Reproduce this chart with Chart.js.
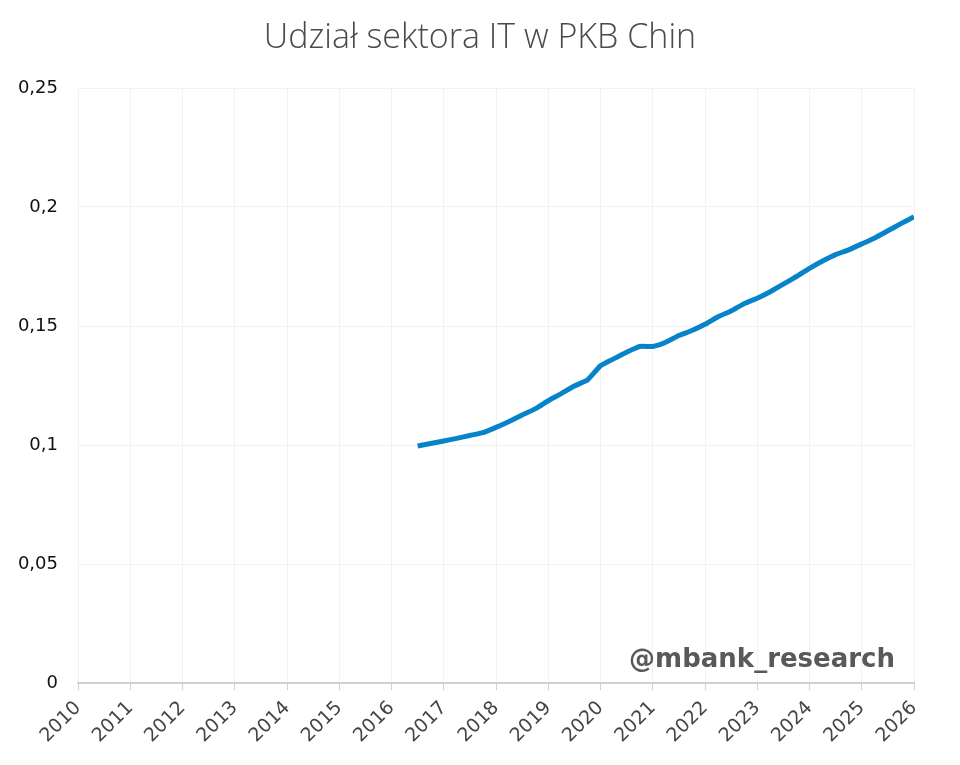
<!DOCTYPE html>
<html>
<head>
<meta charset="utf-8">
<script src="https://cdn.jsdelivr.net/npm/chart.js@4/dist/chart.umd.min.js"></script>
<style>
  html, body { margin: 0; padding: 0; background: #fff; }
  #wrap { width: 960px; height: 765px; position: relative; }
</style>
</head>
<body>
<div id="wrap"><canvas id="myChart"></canvas></div>
<script>
// quarterly data, share of IT sector in China's GDP
var quarters = [
  "2016Q3","2016Q4","2017Q1","2017Q2","2017Q3","2017Q4",
  "2018Q1","2018Q2","2018Q3","2018Q4","2019Q1","2019Q2","2019Q3","2019Q4",
  "2020Q1","2020Q2","2020Q3","2020Q4","2021Q1","2021Q2","2021Q3","2021Q4",
  "2022Q1","2022Q2","2022Q3","2022Q4","2023Q1","2023Q2","2023Q3","2023Q4",
  "2024Q1","2024Q2","2024Q3","2024Q4","2025Q1","2025Q2","2025Q3","2025Q4",
  "2026Q1"
]
var itShare = [
  0.0996, 0.1006, 0.1017, 0.1028, 0.1040, 0.1052,
  0.1074, 0.1099, 0.1126, 0.1152, 0.1186, 0.1216, 0.1248, 0.1273,
  0.1333, 0.1362, 0.1390, 0.1414, 0.1414, 0.1432, 0.1460, 0.1481,
  0.1507, 0.1539, 0.1563, 0.1594, 0.1617, 0.1644, 0.1676, 0.1708,
  0.1742, 0.1773, 0.1800, 0.1820, 0.1845, 0.1870, 0.1900, 0.1930,
  0.1959
]
var yTicks = [0, 0.05, 0.1, 0.15, 0.2, 0.25]
var yTickLabels = ["0", "0,05", "0,1", "0,15", "0,2", "0,25"]
var firstYear = 2010
var lastYear = 2026
var chartTitle = "Udział sektora IT w PKB Chin"

var points = []
quarters.forEach(function(q, i){
  var yr = parseInt(q.slice(0, 4))
  var qn = parseInt(q.slice(5))
  points.push({x: yr + (qn - 1) / 4, y: itShare[i]})
})

// title centred on the whole canvas + watermark in the corner
var texts = {
  id: "texts",
  afterDraw: function(chart){
    var ctx = chart.ctx
    var a = chart.chartArea
    ctx.save()
    ctx.font = "300 34px 'Open Sans'"
    ctx.fillStyle = "#4a4a4a"
    ctx.textAlign = "center"
    ctx.textBaseline = "middle"
    ctx.fillText(chartTitle, chart.width / 2, 38)
    ctx.font = "bold 26px 'DejaVu Sans'"
    ctx.fillStyle = "#595959"
    ctx.textAlign = "right"
    ctx.textBaseline = "alphabetic"
    ctx.fillText("@mbank_research", a.right - 19, a.bottom - 16)
    ctx.restore()
  }
}

var ctx = document.getElementById("myChart")
var myChart = new Chart(ctx, {
  type: "line",
  data: {
    datasets: [{
      label: chartTitle,
      data: points,
      borderColor: "#0784c9",
      borderWidth: 5,
      pointRadius: 0,
      tension: 0.15,
      fill: false
    }]
  },
  options: {
    responsive: true,
    maintainAspectRatio: false,
    animation: false,
    layout: { padding: { top: 88, right: 46, left: 0, bottom: 0 } },
    plugins: {
      legend: { display: false },
      tooltip: { enabled: false }
    },
    scales: {
      x: {
        type: "linear",
        min: firstYear,
        max: lastYear,
        afterFit: function(s){ s.height = 82 },
        ticks: {
          stepSize: 1,
          autoSkip: false,
          maxRotation: 45,
          minRotation: 45,
          padding: 7,
          color: "#444",
          font: { family: "'DejaVu Sans'", size: 19 },
          callback: function(v){ return String(v) }
        },
        grid: { color: "#f2f2f2", tickColor: "#d0d0d0", tickLength: 7 },
        border: { color: "#d0d0d0", width: 2 }
      },
      y: {
        min: 0,
        max: 0.25,
        afterFit: function(s){ s.width = 78 },
        afterBuildTicks: function(s){
          s.ticks = yTicks.map(function(v){ return {value: v} })
        },
        ticks: {
          color: "#111",
          padding: 20,
          font: { family: "'DejaVu Sans'", size: 18 },
          callback: function(v){
            var i = yTicks.indexOf(v)
            return i >= 0 ? yTickLabels[i] : ""
          }
        },
        grid: { color: "#f2f2f2", drawTicks: false },
        border: { display: false }
      }
    }
  },
  plugins: [texts]
})
</script>
</body>
</html>
